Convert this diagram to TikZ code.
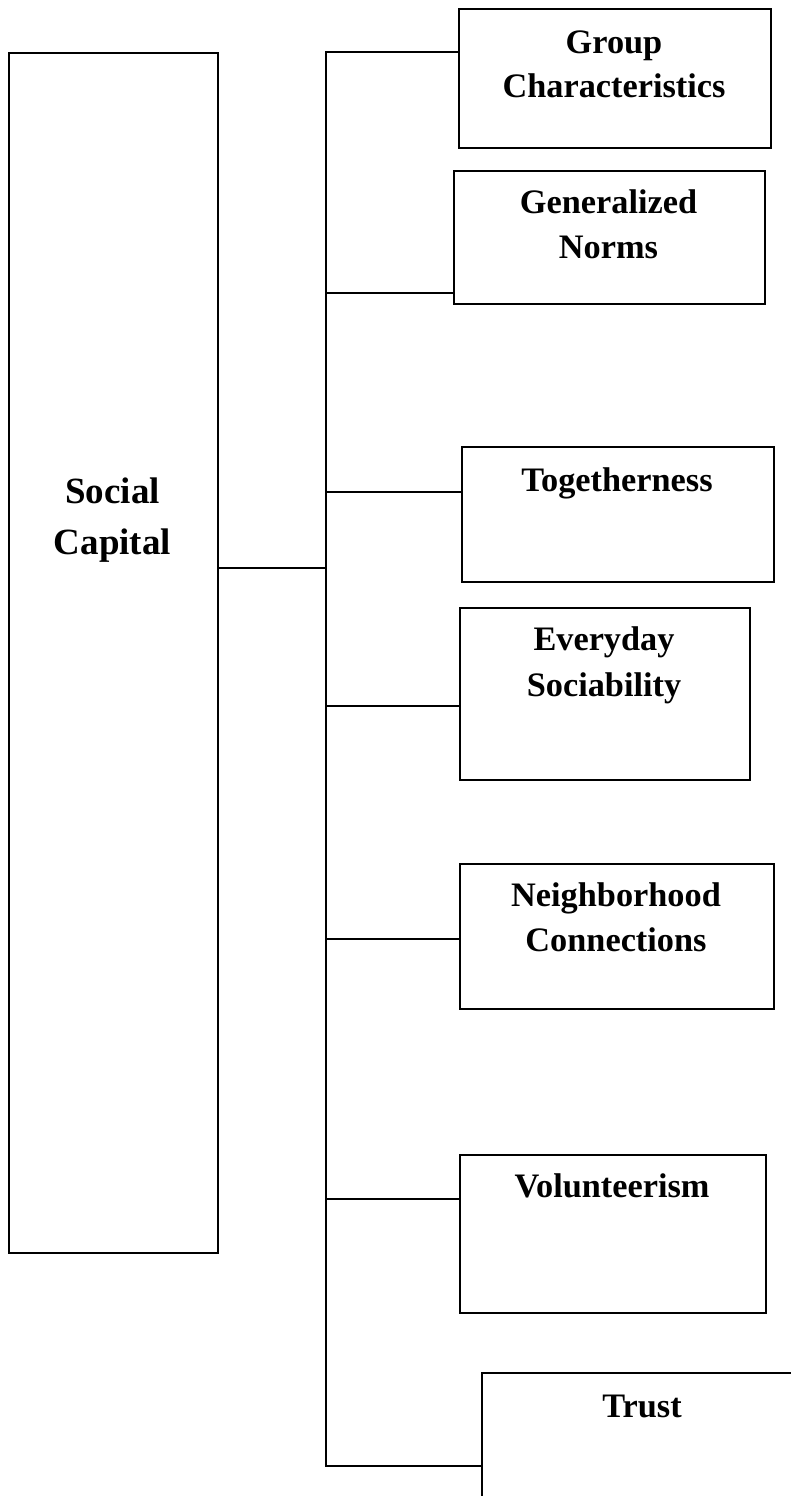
\documentclass[tikz,border=0pt]{standalone}
\usepackage{fontspec}
\setmainfont{Liberation Serif}
\begin{document}
\begin{tikzpicture}[x=1pt,y=-1pt,
  box/.style={draw=black,line width=1.6pt,rectangle,inner sep=0pt,anchor=north west},
  conn/.style={draw=black,line width=1.6pt},
  lbl/.style={anchor=base,inner sep=0pt,font=\bfseries\fontsize{34.3}{44}\selectfont},
  biglbl/.style={anchor=base,inner sep=0pt,font=\bfseries\fontsize{37}{51}\selectfont}]
\useasboundingbox (0,0) rectangle (791,1496);
\clip (0,0) rectangle (791,1496);
% boxes
\node[box,minimum width=209pt,minimum height=1200pt] (sc) at (8,52) {};
\node[box,minimum width=312pt,minimum height=139pt] (gc) at (458,8) {};
\node[box,minimum width=311pt,minimum height=133pt] (gn) at (453,170) {};
\node[box,minimum width=312pt,minimum height=135pt] (tg) at (461,446) {};
\node[box,minimum width=290pt,minimum height=172pt] (es) at (459,607) {};
\node[box,minimum width=314pt,minimum height=145pt] (nc) at (459,863) {};
\node[box,minimum width=306pt,minimum height=158pt] (vo) at (459,1154) {};
\node[box,minimum width=322pt,minimum height=190pt] (tr) at (481,1372) {};
% labels
\node[biglbl] (sc1) at (112.5,503) {Social};
\node[biglbl] (sc2) at (112.5,554) {Capital};
\node[lbl] (gc1) at (614,53) {Group};
\node[lbl] (gc2) at (614,97) {Characteristics};
\node[lbl] (gn1) at (608.5,213) {Generalized};
\node[lbl] (gn2) at (608.5,258) {Norms};
\node[lbl] (tg1) at (617,491) {Togetherness};
\node[lbl] (es1) at (604,650) {Everyday};
\node[lbl] (es2) at (604,696) {Sociability};
\node[lbl] (nc1) at (616,906) {Neighborhood};
\node[lbl] (nc2) at (616,951) {Connections};
\node[lbl] (vo1) at (612,1197) {Volunteerism};
\node[lbl] (tr1) at (642,1417) {Trust};
% junctions on the spine
\coordinate (j0) at (326,568);
\coordinate (j1) at (326,52);
\coordinate (j2) at (326,293);
\coordinate (j3) at (326,492);
\coordinate (j4) at (326,706);
\coordinate (j5) at (326,939);
\coordinate (j6) at (326,1199);
\coordinate (j7) at (326,1466);
% connectors
\draw[conn] (j1 -| gc.west) -- (j1) -- (j7) -- (j7 -| tr.west);
\draw[conn] (j0 -| sc.east) -- (j0);
\draw[conn] (j2) -- (j2 -| gn.west);
\draw[conn] (j3) -- (j3 -| tg.west);
\draw[conn] (j4) -- (j4 -| es.west);
\draw[conn] (j5) -- (j5 -| nc.west);
\draw[conn] (j6) -- (j6 -| vo.west);
\end{tikzpicture}
\end{document}
